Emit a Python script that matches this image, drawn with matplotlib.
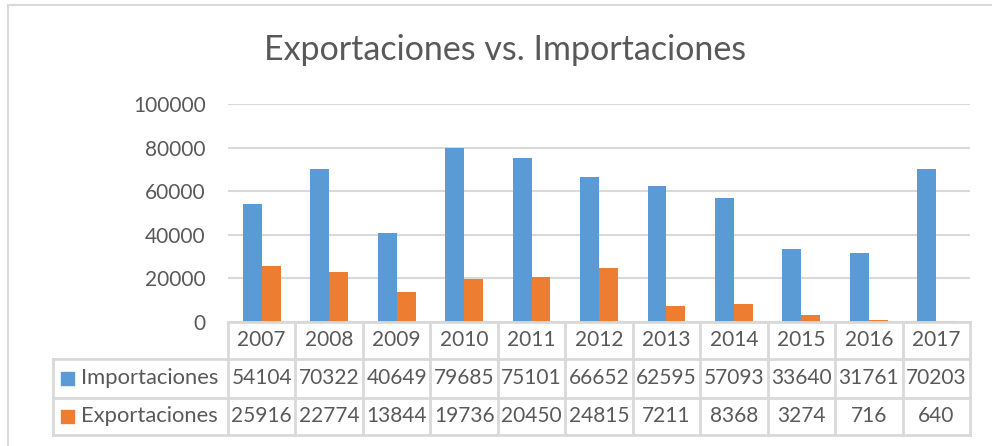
import matplotlib.pyplot as plt
import matplotlib.transforms as mtransforms
from matplotlib.patches import Rectangle
import numpy as np

plt.rcParams["font.family"] = ["Lato", "DejaVu Sans"]

TITLE = "Exportaciones vs. Importaciones"
years = ["2007", "2008", "2009", "2010", "2011", "2012",
         "2013", "2014", "2015", "2016", "2017"]
series = ["Importaciones", "Exportaciones"]
importaciones = [54104, 70322, 40649, 79685, 75101, 66652,
                 62595, 57093, 33640, 31761, 70203]
exportaciones = [25916, 22774, 13844, 19736, 20450, 24815,
                 7211, 8368, 3274, 716, 640]
yticks = [0, 20000, 40000, 60000, 80000, 100000]

COLORS = ["#5b9bd5", "#ed7d31"]
TXT = "#595959"
GRID = "#d9d9d9"
FS = 15

W, H = 992, 446
fig = plt.figure(figsize=(W / 100, H / 100), dpi=100)
ax = fig.add_axes([228 / W, 1 - 322 / H, 742 / W, 218 / H])

# outer chart frame (only left/top visible in the crop)
fig.patches.append(Rectangle((8 / W, -0.1), 1.2, 1.1 - 5 / H,
                             transform=fig.transFigure, fill=False,
                             edgecolor=GRID, linewidth=1.5))

x = np.arange(len(years))
bw = 0.28
for vals, color, off in zip([importaciones, exportaciones], COLORS, [-bw / 2, bw / 2]):
    ax.bar(x + off, vals, width=bw, color=color, zorder=3)

ax.set_xlim(-0.5, len(years) - 0.5)
ax.set_ylim(0, 100000)
ax.set_yticks(yticks)
ax.set_yticklabels([str(t) for t in yticks], fontsize=FS, color=TXT)
ax.tick_params(axis="y", length=0, pad=16)
ax.set_xticks([])
ax.yaxis.grid(True, color=GRID, linewidth=1.5, zorder=0)
for s in ["top", "right", "left", "bottom"]:
    ax.spines[s].set_visible(False)

fig.text(505 / W, 1 - 50 / H, TITLE, fontsize=24.5, color=TXT,
         ha="center", va="center")

# data table below the plot: x in data units, y in axes fraction
tr = mtransforms.blended_transform_factory(ax.transData, ax.transAxes)
px = 218.0
ux = 742 / len(years)
r0, r1, r2, r3 = 0, -37 / px, -76 / px, -113 / px
xl = -0.5 - 175 / ux
xr = len(years) - 0.5

def hline(x0, x1, yy):
    ax.plot([x0, x1], [yy, yy], color=GRID, lw=2, transform=tr,
            clip_on=False, zorder=4)

def vline(xx, y0, y1):
    ax.plot([xx, xx], [y0, y1], color=GRID, lw=2, transform=tr,
            clip_on=False, zorder=4)

hline(-0.5, xr, r0)
hline(xl, xr, r1)
hline(xl, xr, r2)
hline(xl, xr, r3)
vline(xl, r1, r3)
for k in range(len(years) + 1):
    vline(k - 0.5, r0, r3)

for i, yr in enumerate(years):
    ax.text(i, (r0 + r1) / 2, yr, transform=tr, ha="center", va="center",
            fontsize=FS, color=TXT)
    ax.text(i, (r1 + r2) / 2, str(importaciones[i]), transform=tr,
            ha="center", va="center", fontsize=FS, color=TXT)
    ax.text(i, (r2 + r3) / 2, str(exportaciones[i]), transform=tr,
            ha="center", va="center", fontsize=FS, color=TXT)

sq = 13
for name, color, (ya, yb) in zip(series, COLORS, [(r1, r2), (r2, r3)]):
    ym = (ya + yb) / 2
    ax.add_patch(Rectangle((xl + 8 / ux, ym - sq / 2 / px), sq / ux, sq / px,
                           transform=tr, color=color, clip_on=False, zorder=4))
    ax.text(xl + 28 / ux, ym, name, transform=tr, ha="left",
            va="center", fontsize=15.8, color=TXT)

fig.savefig("out.png", dpi=100)
